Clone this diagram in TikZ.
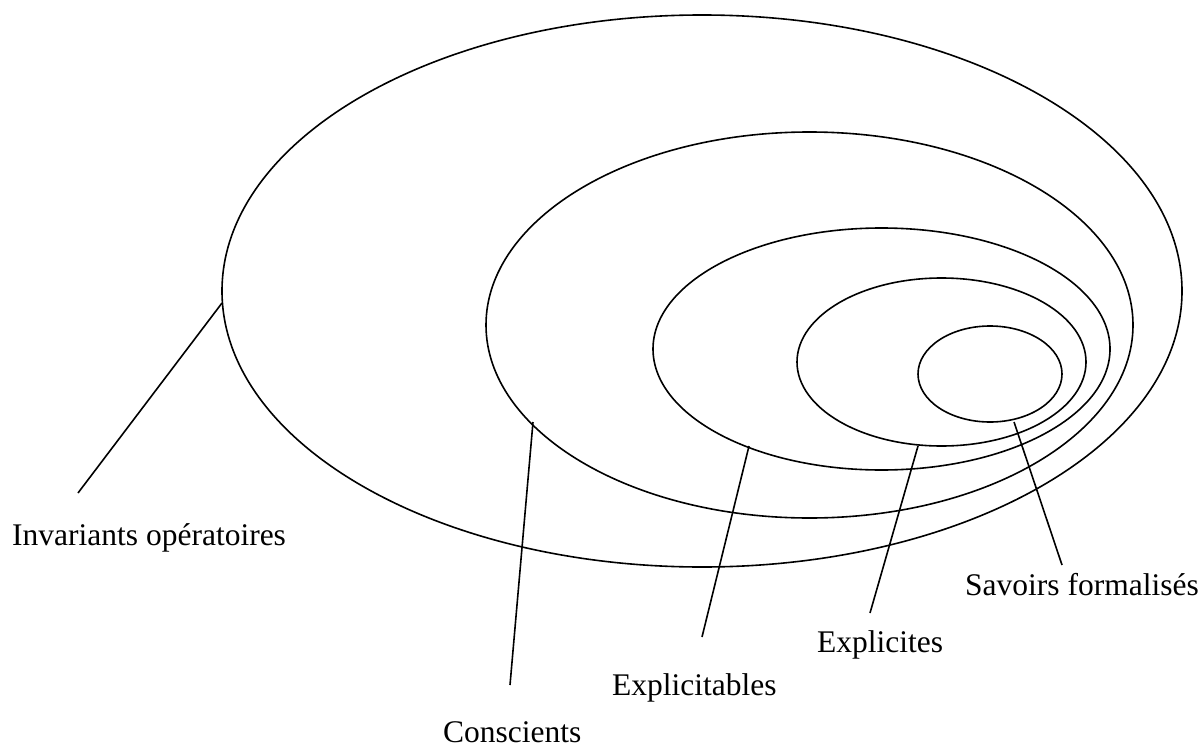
\documentclass[tikz,border=0pt]{standalone}
\usepackage{fontspec}
\setmainfont{Liberation Serif}
\begin{document}
\begin{tikzpicture}[x=1pt,y=-1pt,
  ring/.style={line width=1.6pt},
  leader/.style={line width=1.6pt},
  lbl/.style={anchor=base west,inner sep=0pt,font=\fontsize{31.5}{38}\selectfont}]
\useasboundingbox (0,0) rectangle (1201,749);
% ellipses
\draw[ring] (702,291) ellipse [x radius=480,y radius=276];
\draw[ring] (809.5,325) ellipse [x radius=323.5,y radius=193];
\draw[ring] (881.5,349) ellipse [x radius=228.5,y radius=121];
\draw[ring] (941.5,362) ellipse [x radius=144.5,y radius=84];
\draw[ring] (990,374) ellipse [x radius=72,y radius=48];
% labels
\node[lbl] (inv) at (12,545) {Invariants opératoires};
\node[lbl] (con) at (443,742) {Conscients};
\node[lbl] (expa) at (612,695) {Explicitables};
\node[lbl] (expl) at (817,652) {Explicites};
\node[lbl] (sav) at (965,595) {Savoirs formalisés};
% leader ends
\coordinate (invA) at (222,303); \coordinate (invB) at (78,493);
\coordinate (conA) at (533,422); \coordinate (conB) at (510,685);
\coordinate (expaA) at (749,446); \coordinate (expaB) at (702,637);
\coordinate (explA) at (918,446); \coordinate (explB) at (870,613);
\coordinate (savA) at (1014,422); \coordinate (savB) at (1062,565);
\draw[leader] (invA) -- (invB);
\draw[leader] (conA) -- (conB);
\draw[leader] (expaA) -- (expaB);
\draw[leader] (explA) -- (explB);
\draw[leader] (savA) -- (savB);
\end{tikzpicture}
\end{document}
